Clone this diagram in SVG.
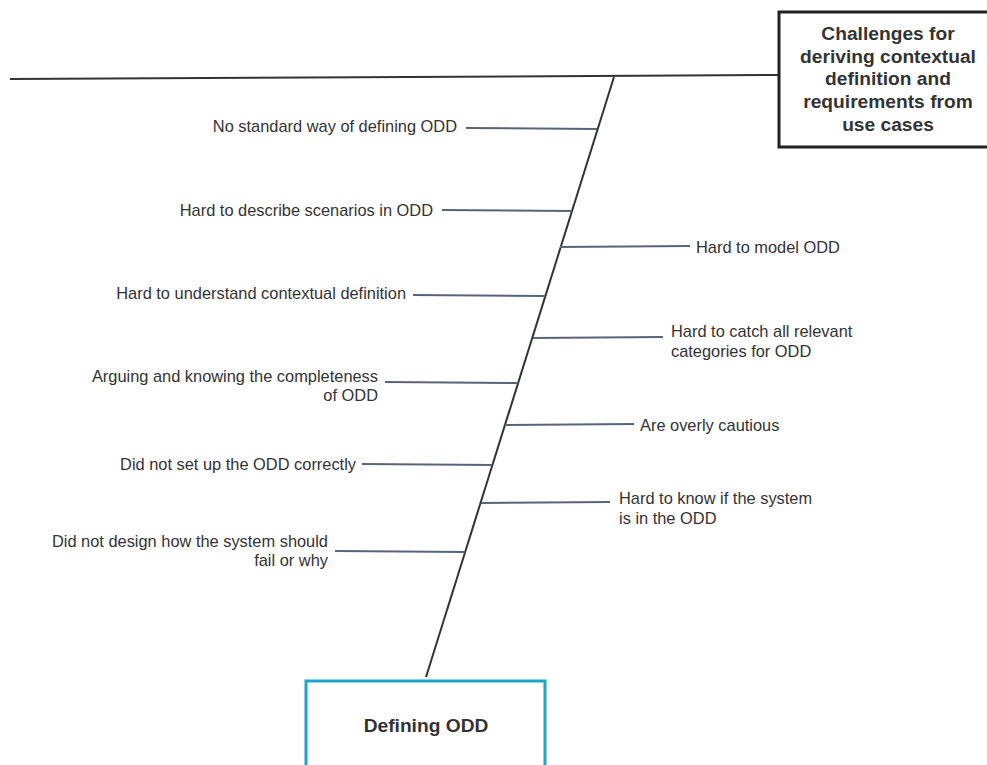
<svg xmlns="http://www.w3.org/2000/svg" width="987" height="765" viewBox="0 0 987 765">
<style>
.t{font-family:"Liberation Sans",Arial,sans-serif;font-size:16.4px;fill:#333}
.b{font-family:"Liberation Sans",Arial,sans-serif;font-size:19.2px;font-weight:bold;fill:#333;text-anchor:middle}
.br{stroke:#5a6478;stroke-width:2;fill:none}
.sp{stroke:#333;stroke-width:2;fill:none}
</style>
<rect width="987" height="765" fill="#fff"/>
<g id="connectors">
<line class="sp" x1="10" y1="79" x2="778" y2="75"/>
<line class="sp" x1="614" y1="77" x2="426" y2="677"/>
<line class="br" x1="466" y1="128" x2="597" y2="129"/>
<line class="br" x1="442" y1="210" x2="572" y2="211"/>
<line class="br" x1="560" y1="247" x2="690" y2="246"/>
<line class="br" x1="413" y1="295" x2="545" y2="296"/>
<line class="br" x1="533" y1="338" x2="663" y2="337"/>
<line class="br" x1="385" y1="382" x2="518" y2="383"/>
<line class="br" x1="505" y1="425" x2="634" y2="424"/>
<line class="br" x1="362" y1="464" x2="492" y2="465"/>
<line class="br" x1="481" y1="503" x2="610" y2="502"/>
<line class="br" x1="335" y1="551" x2="465" y2="552"/>
</g>
<g id="head">
<rect x="779" y="12" width="220" height="135" fill="#fff" stroke="#222" stroke-width="3"/>
<text class="b" x="888" y="40">Challenges for</text>
<text class="b" x="888" y="62.7">deriving contextual</text>
<text class="b" x="888" y="85.4">definition and</text>
<text class="b" x="888" y="108.1">requirements from</text>
<text class="b" x="888" y="130.8">use cases</text>
</g>
<g id="tail">
<rect x="306" y="681" width="239" height="100" fill="#fff" stroke="#1fa3c9" stroke-width="3"/>
<text class="b" x="426" y="732">Defining ODD</text>
</g>
<g id="c1"><text class="t" x="457" y="132" text-anchor="end">No standard way of defining ODD</text></g>
<g id="c2"><text class="t" x="433" y="216" text-anchor="end">Hard to describe scenarios in ODD</text></g>
<g id="c3"><text class="t" x="696" y="253">Hard to model ODD</text></g>
<g id="c4"><text class="t" x="406" y="299" text-anchor="end">Hard to understand contextual definition</text></g>
<g id="c5"><text class="t" x="671" y="337">Hard to catch all relevant</text><text class="t" x="671" y="357">categories for ODD</text></g>
<g id="c6"><text class="t" x="378" y="382" text-anchor="end">Arguing and knowing the completeness</text><text class="t" x="378" y="401" text-anchor="end">of ODD</text></g>
<g id="c7"><text class="t" x="640" y="431">Are overly cautious</text></g>
<g id="c8"><text class="t" x="356" y="470" text-anchor="end">Did not set up the ODD correctly</text></g>
<g id="c9"><text class="t" x="619" y="504">Hard to know if the system</text><text class="t" x="619" y="524">is in the ODD</text></g>
<g id="c10"><text class="t" x="328" y="547" text-anchor="end">Did not design how the system should</text><text class="t" x="328" y="566" text-anchor="end">fail or why</text></g>
</svg>
